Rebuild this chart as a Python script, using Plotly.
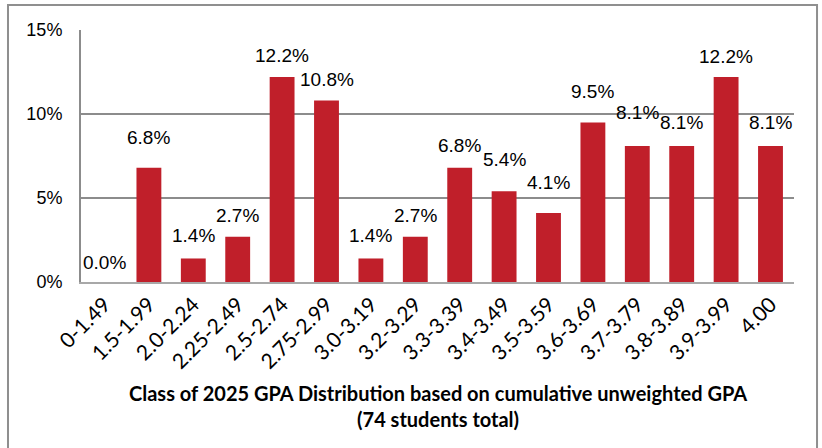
import plotly.graph_objects as go

# ---- data ----
gpa_ranges = ["0-1.49", "1.5-1.99", "2.0-2.24", "2.25-2.49", "2.5-2.74", "2.75-2.99",
              "3.0-3.19", "3.2-3.29", "3.3-3.39", "3.4-3.49", "3.5-3.59", "3.6-3.69",
              "3.7-3.79", "3.8-3.89", "3.9-3.99", "4.00"]
pct_students = [0.0, 6.8, 1.4, 2.7, 12.2, 10.8, 1.4, 2.7, 6.8, 5.4, 4.1, 9.5, 8.1, 8.1, 12.2, 8.1]
y_ticks = [0, 5, 10, 15]
title_lines = ["Class of 2025 GPA Distribution based on cumulative unweighted GPA",
               "(74 students total)"]

# ---- styling (label lift above bar top, px) ----
label_lift = [20, 30, 23, 21, 22, 21, 23, 21, 22, 32, 31, 31, 33, 23, 21, 23]

BAR = "#C01F2A"
GRID = "#8C8C8C"

fig = go.Figure(go.Bar(x=gpa_ranges, y=pct_students, marker=dict(color=BAR, line=dict(width=0))))

annotations = []
for i, (v, dy) in enumerate(zip(pct_students, label_lift)):
    annotations.append(dict(x=i, y=v, xref="x", yref="y", text=f"{v:.1f}%", showarrow=False,
                            yanchor="middle", yshift=dy,
                            font=dict(family="Liberation Sans, Arial", size=19, color="#000")))
annotations.append(dict(x=0.5, y=-0.492, xref="paper", yref="paper",
                        text="<b>" + "<br>".join(title_lines) + "</b>",
                        showarrow=False, xanchor="center", yanchor="middle",
                        font=dict(family="Lato", size=20, color="#000")))

fig.update_layout(
    width=822, height=448,
    margin=dict(l=81, r=28, t=30, b=166),
    paper_bgcolor="white", plot_bgcolor="white",
    bargap=0.44, showlegend=False,
    annotations=annotations,
    shapes=[dict(type="rect", xref="paper", yref="paper", x0=-0.1024, x1=1.0323, y0=-1.0, y1=1.099,
                 line=dict(color="#8F8F8F", width=2), fillcolor="rgba(0,0,0,0)", layer="above")],
    xaxis=dict(type="category", tickangle=-45, showgrid=False, showline=True, linecolor="#A8A8A8", linewidth=2,
               ticks="", tickfont=dict(family="Lato", size=21, color="#000"), fixedrange=True),
    yaxis=dict(range=[0, 15], tickvals=y_ticks, ticktext=[f"{t}%" for t in y_ticks],
               showgrid=True, gridcolor=GRID, gridwidth=2, zeroline=False,
               showline=True, linecolor=GRID, linewidth=2, ticks="",
               ticklabelstandoff=13,
               tickfont=dict(family="Liberation Sans, Arial", size=18, color="#000"), fixedrange=True),
    font=dict(family="Liberation Sans"),
)

fig.write_html("out.html", config={"displayModeBar": False},
               post_script="document.body.style.margin='0';document.body.style.overflow='hidden';")
